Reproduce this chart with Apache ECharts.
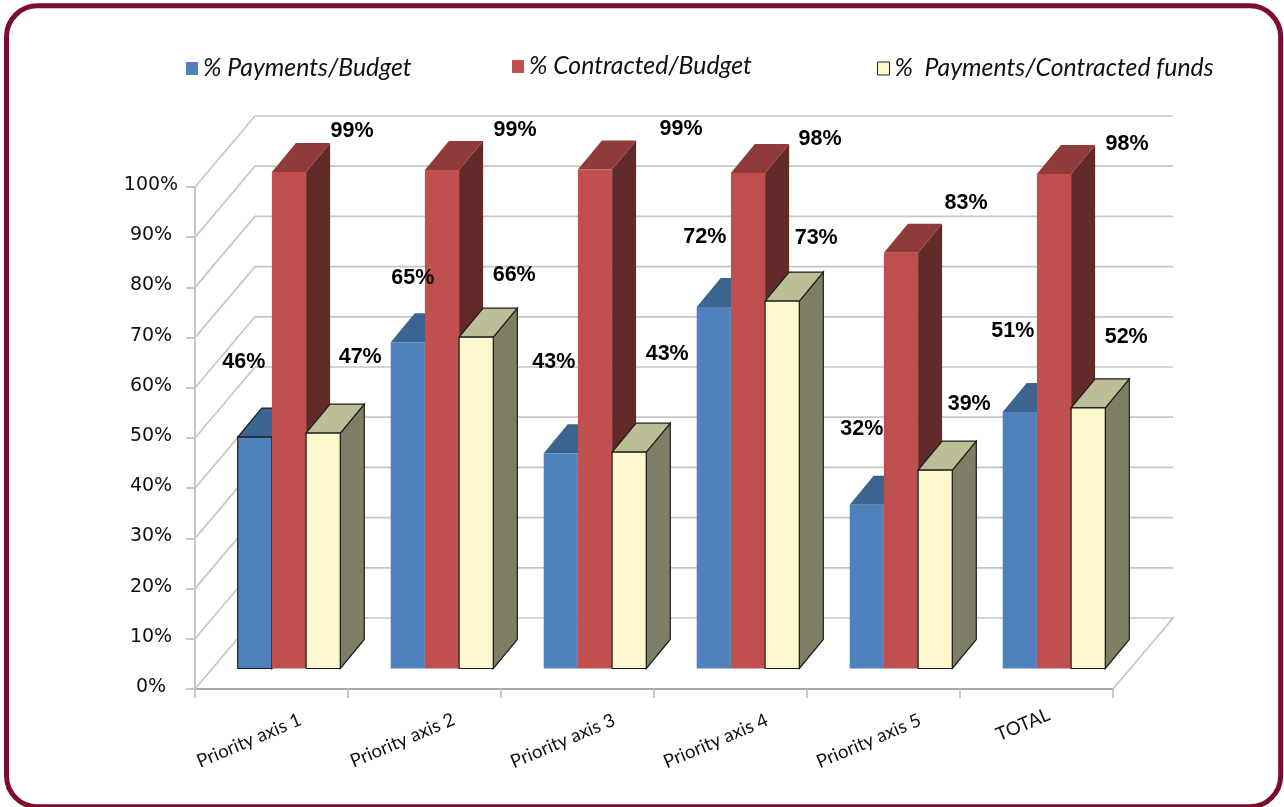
<!DOCTYPE html>
<html>
<head>
<meta charset="utf-8">
<style>html,body{margin:0;padding:0;background:#fff}#c{width:1284px;height:807px}</style>
<script src="https://cdn.jsdelivr.net/npm/echarts@6/dist/echarts.min.js"></script>
</head>
<body>
<div id="c"></div>
<script>
var categories = ['Priority axis 1','Priority axis 2','Priority axis 3','Priority axis 4','Priority axis 5','TOTAL'];
var paymentsBudget = [46.1, 65.0, 42.9, 72.0, 32.6, 51.1];
var contractedBudget = [98.9, 99.3, 99.4, 98.7, 82.8, 98.5];
var paymentsContracted = [46.9, 66.0, 43.1, 73.2, 39.5, 51.9];
var paymentsBudgetLabels = ['46%','65%','43%','72%','32%','51%'];
var contractedBudgetLabels = ['99%','99%','99%','98%','83%','98%'];
var paymentsContractedLabels = ['47%','66%','43%','73%','39%','52%'];
var yTicks = [0,10,20,30,40,50,60,70,80,90,100];

// label placement relative to the top of each bar (hand-placed in the original)
var paymentsBudgetNudge = [[-11,-76],[5,-65],[-7,-92],[-9,-71],[-5,-77],[-7,-82]];
var contractedBudgetNudge = [[63,-42],[73,-41],[86,-41],[72,-35],[65,-51],[73,-31]];
var paymentsContractedNudge = [[37,-77],[38,-63],[38,-99],[34,-64],[34,-67],[38,-72]];
var xLabelPadRight = [49,48,35,35,35,20];
var xLabelNormalShift = [0,0,7,7,7,-22];

var WALL_DX = 60, WALL_DY = -71, BAR_DX = 24, BAR_DY = -29, SHIFT_X = 17.5, SHIFT_Y = -20.5, BAR_FRACTION = 0.2235;
var GRID_COLOR = '#C6C6C6';
var LEGEND_TEXT = {fontFamily: 'Lato', fontStyle: 'italic', fontSize: 24.8, color: '#111'};

var chart = echarts.init(document.getElementById('c'), null, {renderer:'canvas'});

function barSeries(name, values, slot, colors, outline) {
  return {
    name: name, type: 'custom', coordinateSystem: 'cartesian2d', clip: false, z: 3,
    itemStyle: {color: colors.front},
    encode: {x: 0, y: 1},
    data: values.map(function (v, i) { return [i, v]; }),
    renderItem: function (params, api) {
      var i = api.value(0), top = api.coord([i, api.value(1)]), base = api.coord([i, 0]);
      var w = api.size([1, 0])[0] * BAR_FRACTION;
      var x = top[0] + SHIFT_X + (slot - 0.5) * w, yt = top[1] + SHIFT_Y, yb = base[1] + SHIFT_Y;
      var line = outline(i);
      var st = function (fill) {
        return line ? {fill: fill, stroke: '#1c1c1c', lineWidth: 1.2} : {fill: fill, stroke: null};
      };
      return {type: 'group', children: [
        {type: 'polygon', shape: {points: [[x + w, yt], [x + w + BAR_DX, yt + BAR_DY], [x + w + BAR_DX, yb + BAR_DY], [x + w, yb]]}, style: st(colors.side)},
        {type: 'polygon', shape: {points: [[x, yt], [x + BAR_DX, yt + BAR_DY], [x + w + BAR_DX, yt + BAR_DY], [x + w, yt]]}, style: st(colors.top)},
        {type: 'rect', shape: {x: x, y: yt, width: w, height: yb - yt}, style: st(colors.front)}
      ]};
    }
  };
}

var labelRows = [];
[[paymentsBudget, paymentsBudgetLabels, paymentsBudgetNudge, -1],
 [contractedBudget, contractedBudgetLabels, contractedBudgetNudge, 0],
 [paymentsContracted, paymentsContractedLabels, paymentsContractedNudge, 1]].forEach(function (s) {
  s[0].forEach(function (v, i) { labelRows.push([i, v, s[1][i], s[2][i][0], s[2][i][1], s[3]]); });
});

var option = {
  animation: false,
  backgroundColor: '#fff',
  graphic: [{
    type: 'rect', z: -1, silent: true,
    shape: {x: 6.5, y: 5.8, width: 1274.2, height: 801, r: 31},
    style: {fill: '#fff', stroke: '#7B0D2D', lineWidth: 5}
  }],
  legend: [
    {left: 186, top: 56, padding: 0, itemWidth: 12, itemHeight: 13, itemGap: 9, icon: 'rect', selectedMode: false,
     textStyle: LEGEND_TEXT,
     data: [{name: '% Payments/Budget', itemStyle: {color: '#4F81BD'}}]},
    {left: 512, top: 54, padding: 0, itemWidth: 12, itemHeight: 13, itemGap: 9, icon: 'rect', selectedMode: false,
     textStyle: LEGEND_TEXT,
     data: [{name: '% Contracted/Budget', itemStyle: {color: '#C0504D'}}]},
    {left: 877, top: 56, padding: 0, itemWidth: 12, itemHeight: 13, itemGap: 9, icon: 'rect', selectedMode: false,
     textStyle: LEGEND_TEXT,
     data: [{name: '%  Payments/Contracted funds', itemStyle: {color: '#FDF8CE', borderColor: '#222', borderWidth: 1}}]}
  ],
  grid: {left: 195, right: 171, top: 187, bottom: 118, containLabel: false},
  xAxis: {
    type: 'category',
    data: categories.map(function (c, i) {
      var s = xLabelNormalShift[i];
      var style = {padding: [0, xLabelPadRight[i], 0, 0], align: 'center', verticalAlign: s > 0 ? 'top' : (s < 0 ? 'bottom' : 'middle'), color: '#111', fontFamily: 'Lato', fontSize: 18.6};
      if (s !== 0) { style.lineHeight = Math.abs(s); }
      return {value: c, textStyle: style};
    }),
    axisLine: {show: true, lineStyle: {color: '#A8A8A8', width: 2}},
    axisTick: {show: true, length: 9, lineStyle: {color: '#C8C8C8', width: 2}},
    splitLine: {show: false},
    axisLabel: {interval: 0, rotate: 23, margin: 42, color: '#111', fontFamily: 'Lato', fontSize: 18.6}
  },
  yAxis: {
    type: 'value', min: 0, max: 100, interval: 10,
    axisLine: {show: true, lineStyle: {color: '#C6C6C6', width: 2}},
    axisTick: {show: true, length: 9, lineStyle: {color: '#C6C6C6', width: 2}},
    splitLine: {show: false},
    axisLabel: {
      formatter: '{value}%', align: 'center', verticalAlign: 'bottom', lineHeight: 4, margin: 44,
      color: '#111', fontFamily: 'DejaVu Sans', fontSize: 19
    }
  },
  series: [
    {
      name: 'walls', type: 'custom', coordinateSystem: 'cartesian2d', clip: false, z: 1, silent: true,
      data: yTicks.map(function (t) { return [0, t]; }),
      encode: {x: 0, y: 1},
      renderItem: function (params, api) {
        var t = api.value(1), band = api.size([1, 0])[0];
        var p = api.coord([0, t]), q = api.coord([categories.length - 1, t]);
        var l = p[0] - band / 2, r = q[0] + band / 2, y = p[1];
        var pts = [[l, y], [l + WALL_DX, y + WALL_DY], [r + WALL_DX, y + WALL_DY]];
        if (t === yTicks[0]) { pts.push([r, y]); }
        return {type: 'polyline', shape: {points: pts}, style: {fill: null, stroke: GRID_COLOR, lineWidth: 1.7}};
      }
    },
    barSeries('% Payments/Budget', paymentsBudget, -1, {front: '#4F81BD', top: '#3C6491', side: '#38597F'}, function (i) { return i === 0; }),
    barSeries('% Contracted/Budget', contractedBudget, 0, {front: '#C0504D', top: '#8E3B39', side: '#622A28'}, function () { return false; }),
    barSeries('%  Payments/Contracted funds', paymentsContracted, 1, {front: '#FDF8CE', top: '#BEBE96', side: '#7F7F67'}, function () { return true; }),
    {
      name: 'labels', type: 'custom', coordinateSystem: 'cartesian2d', clip: false, z: 5, silent: true,
      encode: {x: 0, y: 1},
      data: labelRows,
      renderItem: function (params, api) {
        var i = api.value(0), top = api.coord([i, api.value(1)]);
        var w = api.size([1, 0])[0] * BAR_FRACTION;
        var row = labelRows[params.dataIndex];
        return {type: 'text', style: {
          x: top[0] + SHIFT_X + row[5] * w + row[3], y: top[1] + SHIFT_Y + row[4] + 1,
          text: row[2], align: 'center', verticalAlign: 'middle',
          font: 'bold 21.5px "Liberation Sans"', fill: '#000'
        }};
      }
    }
  ]
};
chart.setOption(option);
</script>
</body>
</html>
